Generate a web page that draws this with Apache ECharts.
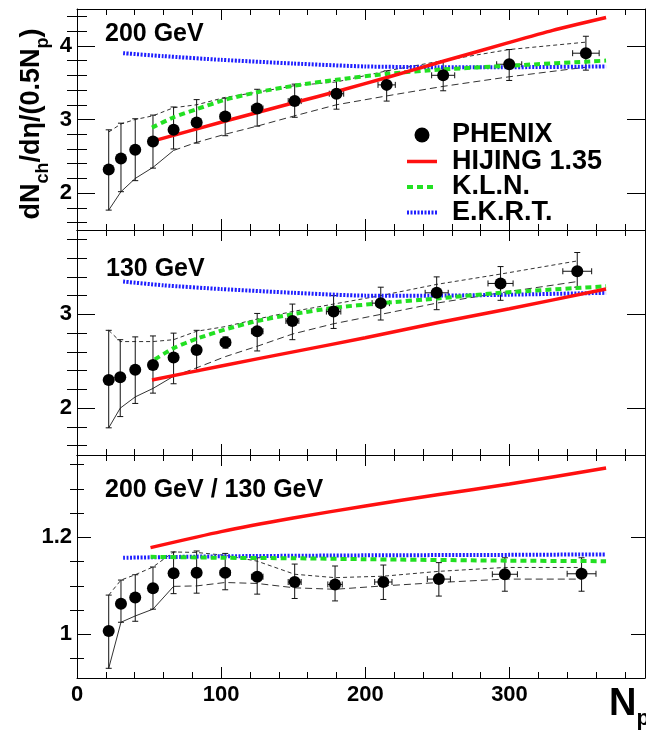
<!DOCTYPE html>
<html>
<head>
<meta charset="utf-8">
<script src="https://cdn.jsdelivr.net/npm/echarts@6/dist/echarts.min.js"></script>
<style>
  html, body { margin: 0; padding: 0; background: #fff; }
  #chart { width: 646px; height: 734px; }
</style>
</head>
<body>
<div id="chart"></div>
<script>
// ---------- PHENIX data: 200 GeV ----------
const np200     = [22, 30.5, 40.4, 52.7, 67, 83, 102.8, 125, 151, 180, 214.8, 254, 299.8, 353];
const val200    = [2.32, 2.47, 2.59, 2.70, 2.86, 2.96, 3.04, 3.15, 3.25, 3.35, 3.47, 3.60, 3.75, 3.90];
const errLo200  = [1.77, 2.02, 2.17, 2.34, 2.60, 2.68, 2.78, 2.91, 3.03, 3.14, 3.25, 3.39, 3.53, 3.67];
const errHi200  = [2.86, 2.95, 3.01, 3.06, 3.17, 3.27, 3.29, 3.41, 3.48, 3.53, 3.66, 3.80, 3.95, 4.13];
const npErr200  = [1.5, 1.8, 2, 2.3, 2.6, 3, 3.5, 4, 4.5, 5, 6, 8, 8.7, 9.2];
const bandHi200 = [2.83, 2.94, 3.00, 3.05, 3.16, 3.20, 3.30, 3.37, 3.46, 3.51, 3.66, 3.80, 3.95, 4.05];
const bandLo200 = [1.77, 2.02, 2.20, 2.35, 2.58, 2.69, 2.80, 2.91, 3.05, 3.20, 3.32, 3.45, 3.58, 3.71];

// ---------- PHENIX data: 130 GeV ----------
const np130     = [22, 30, 40.4, 52.7, 67, 83, 103, 125, 149.4, 178, 210.7, 249.5, 293.8, 347];
const val130    = [2.30, 2.33, 2.41, 2.46, 2.54, 2.62, 2.70, 2.82, 2.93, 3.03, 3.12, 3.23, 3.33, 3.46];
const errLo130  = [1.79, 1.91, 2.05, 2.16, 2.26, 2.39, 2.64, 2.61, 2.73, 2.85, 2.94, 3.05, 3.15, 3.29];
const errHi130  = [2.83, 2.73, 2.76, 2.77, 2.80, 2.83, 2.76, 3.01, 3.11, 3.20, 3.29, 3.40, 3.51, 3.66];
const npErr130  = [1.5, 1.8, 2, 2.3, 2.6, 3, 3.5, 4, 4.5, 5, 6, 8, 8.7, 10];
const bandHi130 = [2.83, 2.71, 2.71, 2.71, 2.73, 2.82, 2.87, 2.95, 3.03, 3.11, 3.20, 3.32, 3.43, 3.57];
const bandLo130 = [1.79, 2.00, 2.12, 2.21, 2.34, 2.43, 2.55, 2.66, 2.79, 2.90, 3.00, 3.12, 3.23, 3.35];

// ---------- ratio 200 / 130 ----------
const npR     = [22, 30.5, 40.4, 52.7, 67, 83, 102.8, 125, 151, 179, 212.5, 251, 296.8, 350];
const valR    = [1.007, 1.063, 1.076, 1.095, 1.126, 1.127, 1.127, 1.119, 1.108, 1.103, 1.108, 1.114, 1.124, 1.125];
const errLoR  = [0.930, 1.025, 1.027, 1.052, 1.084, 1.085, 1.092, 1.083, 1.074, 1.069, 1.072, 1.079, 1.089, 1.089];
const errHiR  = [1.081, 1.112, 1.123, 1.139, 1.170, 1.172, 1.167, 1.158, 1.145, 1.141, 1.143, 1.148, 1.158, 1.158];
const npErrR  = [1.5, 1.8, 2, 2.3, 2.6, 3, 3.5, 4, 4.5, 5, 6, 8, 8.7, 10];
const bandHiR = [1.081, 1.112, 1.123, 1.139, 1.170, 1.169, 1.163, 1.151, 1.124, 1.117, 1.120, 1.130, 1.138, 1.138];
const bandLoR = [0.930, 1.025, 1.038, 1.052, 1.099, 1.100, 1.107, 1.105, 1.096, 1.093, 1.100, 1.107, 1.114, 1.114];

// ---------- model curves ----------
const hij200Np  = [55, 103, 151, 182, 215, 254, 297, 330, 367];
const hij200    = [2.72, 2.98, 3.23, 3.39, 3.57, 3.79, 4.03, 4.21, 4.385];
const kln200Np  = [52, 67, 83, 103, 125, 151, 180, 215, 254, 300, 367];
const kln200    = [2.89, 3.03, 3.14, 3.27, 3.37, 3.46, 3.54, 3.62, 3.68, 3.73, 3.80];
const ekrt200Np = [32, 60, 100, 150, 200, 250, 300, 367];
const ekrt200   = [3.90, 3.86, 3.81, 3.76, 3.72, 3.71, 3.71, 3.72];

const hij130Np  = [52, 100, 150, 200, 250, 300, 367];
const hij130    = [2.30, 2.45, 2.60, 2.75, 2.91, 3.06, 3.27];
const kln130Np  = [54, 67, 83, 103, 125, 149, 178, 211, 250, 294, 367];
const kln130    = [2.52, 2.64, 2.74, 2.84, 2.93, 3.00, 3.07, 3.12, 3.17, 3.23, 3.30];
const ekrt130Np = [32, 60, 100, 150, 200, 250, 300, 367];
const ekrt130   = [3.35, 3.31, 3.27, 3.23, 3.20, 3.20, 3.21, 3.23];

const hijRNp  = [51, 100, 150, 200, 250, 300, 367];
const hijR    = [1.179, 1.212, 1.240, 1.265, 1.288, 1.310, 1.343];
const klnRNp  = [51, 100, 150, 200, 300, 367];
const klnR    = [1.160, 1.158, 1.157, 1.155, 1.152, 1.151];
const ekrtRNp = [32, 100, 200, 300, 367];
const ekrtR   = [1.158, 1.161, 1.163, 1.164, 1.165];

// ---------- axes ----------
const xRange = [0, 394];
const xMajor = [0, 100, 200, 300];
const xMinor = [20, 40, 60, 80, 120, 140, 160, 180, 220, 240, 260, 280, 320, 340, 360, 380];

const yRangeTop = [1.5, 4.5];
const yMajorTop = [2, 3, 4];
const yMinorTop = [1.6, 1.8, 2.2, 2.4, 2.6, 2.8, 3.2, 3.4, 3.6, 3.8, 4.2, 4.4];
const yRangeMid = [1.5, 3.9];
const yMajorMid = [2, 3];
const yMinorMid = [1.6, 1.8, 2.2, 2.4, 2.6, 2.8, 3.2, 3.4, 3.6, 3.8];
const yRangeBot = [0.91, 1.37];
const yMajorBot = [1, 1.2];
const yMinorBot = [0.95, 1.05, 1.1, 1.15, 1.25, 1.3, 1.35];

const panelLabels = ['200 GeV', '130 GeV', '200 GeV / 130 GeV'];
const legendNames = ['PHENIX', 'HIJING 1.35', 'K.L.N.', 'E.K.R.T.'];

const FONT = '"Liberation Sans", Arial, Helvetica, sans-serif';
const RED = '#ff1010', GREEN = '#22e022', BLUE = '#1e1eff';

const grids = [
  { left: 77, top: 9,   width: 568, height: 221 },
  { left: 77, top: 230, width: 568, height: 225 },
  { left: 77, top: 455, width: 568, height: 223 }
];

const lineAx = { show: true, onZero: false, lineStyle: { color: '#000', width: 1 } };
const noLine = { show: false };

function xAxes(gi, withLabels) {
  const base = { type: 'value', gridIndex: gi, min: xRange[0], max: xRange[1], splitLine: { show: false } };
  const tick = (vals, len) => ({ show: true, inside: true, length: len, customValues: vals, lineStyle: { color: '#000', width: 1 } });
  return [
    Object.assign({}, base, { position: 'bottom', axisLine: lineAx, axisTick: tick(xMajor, 11),
      axisLabel: withLabels ? { show: true, customValues: xMajor, margin: 6, color: '#000',
        fontFamily: FONT, fontWeight: 'bold', fontSize: 22 } : { show: false } }),
    Object.assign({}, base, { position: 'bottom', axisLine: noLine, axisTick: tick(xMinor, 6), axisLabel: { show: false } }),
    Object.assign({}, base, { position: 'top', axisLine: lineAx, axisTick: tick(xMajor, 11), axisLabel: { show: false } }),
    Object.assign({}, base, { position: 'top', axisLine: noLine, axisTick: tick(xMinor, 6), axisLabel: { show: false } })
  ];
}

function yAxes(gi, range, major, minor, lenMaj, lenMin, fmt) {
  const base = { type: 'value', gridIndex: gi, min: range[0], max: range[1], splitLine: { show: false } };
  const tick = (vals, len) => ({ show: true, inside: true, length: len, customValues: vals, lineStyle: { color: '#000', width: 1 } });
  return [
    Object.assign({}, base, { position: 'left', axisLine: lineAx, axisTick: tick(major, lenMaj),
      axisLabel: { show: true, customValues: major, margin: 5, color: '#000', fontFamily: FONT,
        fontWeight: 'bold', fontSize: 22, formatter: fmt } }),
    Object.assign({}, base, { position: 'left', axisLine: noLine, axisTick: tick(minor, lenMin), axisLabel: { show: false } }),
    Object.assign({}, base, { position: 'right', axisLine: lineAx, axisTick: tick(major, lenMaj), axisLabel: { show: false } }),
    Object.assign({}, base, { position: 'right', axisLine: noLine, axisTick: tick(minor, lenMin), axisLabel: { show: false } })
  ];
}

const zip = (xs, ys) => xs.map((x, i) => [x, ys[i]]);

// error bars (vertical with caps, horizontal Np uncertainty)
function errorBars(gi, nps, vals, lo, hi, xe) {
  return {
    type: 'custom', xAxisIndex: 4 * gi, yAxisIndex: 4 * gi, z: 3, silent: true,
    encode: { x: 0, y: 1 },
    data: nps.map((n, i) => [n, vals[i], lo[i], hi[i], xe[i]]),
    renderItem(params, api) {
      const n = api.value(0), v = api.value(1), l = api.value(2), h = api.value(3), e = api.value(4);
      const pL = api.coord([n, l]), pH = api.coord([n, h]);
      const cap = 3;
      const st = { stroke: '#111', lineWidth: 1, fill: null };
      const kids = [
        { type: 'line', shape: { x1: pL[0], y1: pL[1], x2: pH[0], y2: pH[1] }, style: st },
        { type: 'line', shape: { x1: pH[0] - cap, y1: pH[1], x2: pH[0] + cap, y2: pH[1] }, style: st },
        { type: 'line', shape: { x1: pL[0] - cap, y1: pL[1], x2: pL[0] + cap, y2: pL[1] }, style: st }
      ];
      if (e > 0) {
        const a = api.coord([n - e, v]), b = api.coord([n + e, v]);
        kids.push({ type: 'line', shape: { x1: a[0], y1: a[1], x2: b[0], y2: b[1] }, style: st });
        kids.push({ type: 'line', shape: { x1: a[0], y1: a[1] - cap, x2: a[0], y2: a[1] + cap }, style: st });
        kids.push({ type: 'line', shape: { x1: b[0], y1: b[1] - cap, x2: b[0], y2: b[1] + cap }, style: st });
      }
      return { type: 'group', children: kids };
    }
  };
}

function lineSeries(gi, data, color, width, type, z, smooth) {
  return {
    type: 'line', xAxisIndex: 4 * gi, yAxisIndex: 4 * gi, data, symbol: 'none', silent: true,
    smooth: smooth || false, z,
    lineStyle: { color, width, type }
  };
}

function panelSeries(gi, nps, vals, lo, hi, xe, bHi, bLo, hijNp, hij, klnNp, kln, ekNp, ek) {
  return [
    // systematic band edges
    lineSeries(gi, zip(nps, bHi), '#333', 1, [4, 3], 2),
    lineSeries(gi, zip(nps.slice(0, 5), bLo.slice(0, 5)), '#333', 1, 'solid', 2),
    lineSeries(gi, zip(nps.slice(4), bLo.slice(4)), '#333', 1, [7, 4], 2),
    // model curves
    lineSeries(gi, zip(ekNp, ek), BLUE, 4, [2, 1.5], 5, 0.2),
    lineSeries(gi, zip(klnNp, kln), GREEN, 4, [6, 4], 5, 0.2),
    lineSeries(gi, zip(hijNp, hij), RED, 3.5, 'solid', 6, 0.2),
    errorBars(gi, nps, vals, lo, hi, xe),
    {
      type: 'scatter', xAxisIndex: 4 * gi, yAxisIndex: 4 * gi, data: zip(nps, vals), silent: true,
      symbol: 'circle', symbolSize: 12, itemStyle: { color: '#000', opacity: 1 }, z: 7
    }
  ];
}

const txt = (x, y, text, size) => ({
  type: 'text', x, y, silent: true, z: 20,
  style: { text, fill: '#000', font: `bold ${size}px ${FONT}`, textVerticalAlign: 'middle' }
});

const lgX = 407, lgTx = 452, lgY = [135, 161.5, 187, 212.5];

const graphic = [
  txt(105, 34, panelLabels[0], 25),
  txt(106, 269, panelLabels[1], 25),
  txt(105, 490, panelLabels[2], 25),
  // legend
  { type: 'circle', silent: true, z: 20, shape: { cx: lgX + 15, cy: lgY[0], r: 7.5 }, style: { fill: '#000' } },
  { type: 'line', silent: true, z: 20, shape: { x1: lgX, y1: lgY[1], x2: lgX + 30, y2: lgY[1] }, style: { stroke: RED, lineWidth: 3.5 } },
  { type: 'line', silent: true, z: 20, shape: { x1: lgX, y1: lgY[2], x2: lgX + 30, y2: lgY[2] }, style: { stroke: GREEN, lineWidth: 4, lineDash: [6, 4] } },
  { type: 'line', silent: true, z: 20, shape: { x1: lgX, y1: lgY[3], x2: lgX + 30, y2: lgY[3] }, style: { stroke: BLUE, lineWidth: 4, lineDash: [2, 1.5] } },
  txt(lgTx, lgY[0], legendNames[0], 27),
  txt(lgTx, lgY[1], legendNames[1], 27),
  txt(lgTx, lgY[2], legendNames[2], 27),
  txt(lgTx, lgY[3], legendNames[3], 27),
  // y-axis title
  {
    type: 'text', silent: true, z: 20, x: 33, y: 124, rotation: Math.PI / 2,
    style: {
      text: '{a|dN}{s|ch}{a|/dη/(0.5N}{s|p}{a|)}',
      textAlign: 'center', textVerticalAlign: 'middle',
      rich: {
        a: { fontFamily: FONT, fontWeight: 'bold', fontSize: 27, lineHeight: 30, verticalAlign: 'top', fill: '#000' },
        s: { fontFamily: FONT, fontWeight: 'bold', fontSize: 18, lineHeight: 18, verticalAlign: 'top', padding: [16, 0, 0, 0], fill: '#000' }
      }
    }
  },
  // x-axis title
  {
    type: 'text', silent: true, z: 20, x: 609, y: 686,
    style: {
      text: '{n|N}{s|p}',
      rich: {
        n: { fontFamily: FONT, fontWeight: 'bold', fontSize: 38, lineHeight: 40, verticalAlign: 'top', fill: '#000' },
        s: { fontFamily: FONT, fontWeight: 'bold', fontSize: 22, lineHeight: 22, verticalAlign: 'top', padding: [22, 0, 0, 0], fill: '#000' }
      }
    }
  }
];

const chart = echarts.init(document.getElementById('chart'), null, { renderer: 'canvas' });
chart.setOption({
  animation: false,
  backgroundColor: '#fff',
  grid: grids,
  xAxis: [].concat(xAxes(0, false), xAxes(1, false), xAxes(2, true)),
  yAxis: [].concat(
    yAxes(0, yRangeTop, yMajorTop, yMinorTop, 18, 10, v => String(v)),
    yAxes(1, yRangeMid, yMajorMid, yMinorMid, 18, 10, v => String(v)),
    yAxes(2, yRangeBot, yMajorBot, yMinorBot, 14, 7, v => String(v))
  ),
  series: [].concat(
    panelSeries(0, np200, val200, errLo200, errHi200, npErr200, bandHi200, bandLo200,
      hij200Np, hij200, kln200Np, kln200, ekrt200Np, ekrt200),
    panelSeries(1, np130, val130, errLo130, errHi130, npErr130, bandHi130, bandLo130,
      hij130Np, hij130, kln130Np, kln130, ekrt130Np, ekrt130),
    panelSeries(2, npR, valR, errLoR, errHiR, npErrR, bandHiR, bandLoR,
      hijRNp, hijR, klnRNp, klnR, ekrtRNp, ekrtR)
  ),
  graphic
});
</script>
</body>
</html>
